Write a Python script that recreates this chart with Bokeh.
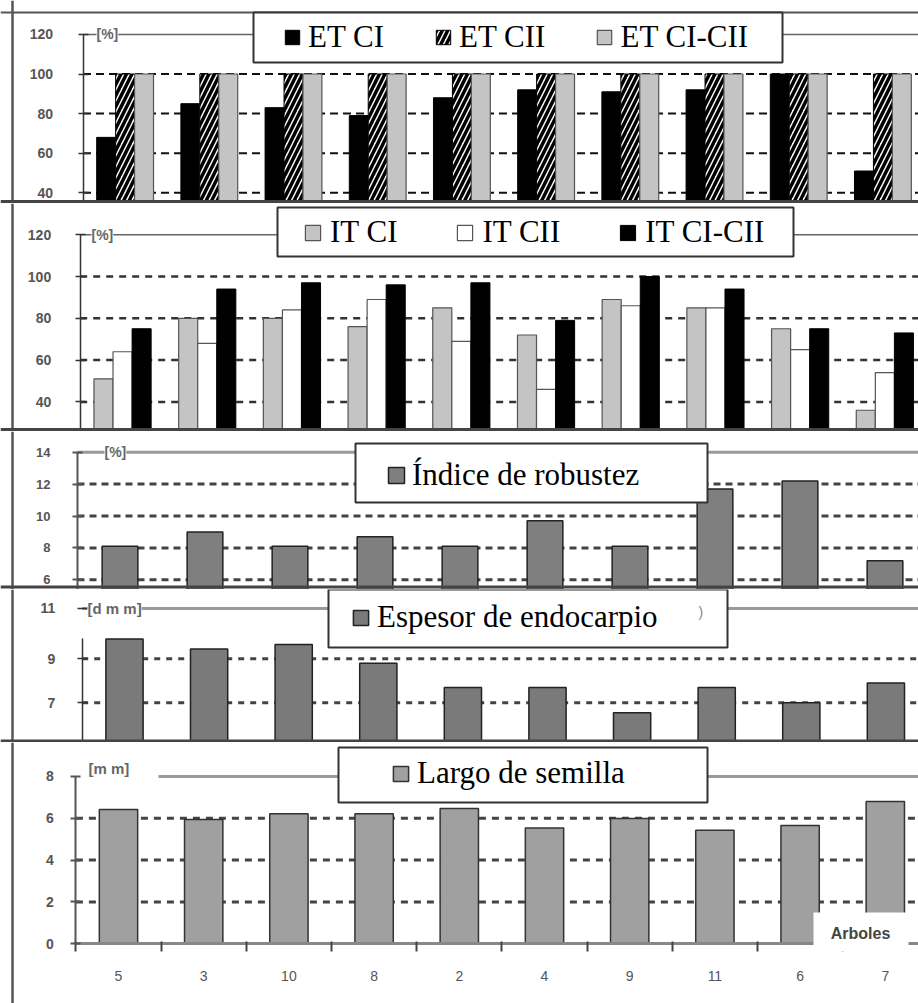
import numpy as np
from bokeh.plotting import figure
from bokeh.models import (Range1d, LinearAxis, FixedTicker,
                          Span, Label, BoxAnnotation, Legend, LegendItem)
from bokeh.layouts import column
from bokeh.embed import file_html
from bokeh.resources import INLINE

# ---------------- data ----------------
arboles = ["5", "3", "10", "8", "2", "4", "9", "11", "6", "7"]

et_ci = [68, 85, 83, 79, 88, 92, 91, 92, 100, 51]
et_cii = [100, 100, 100, 100, 100, 100, 100, 100, 100, 100]
et_ci_cii = [100, 100, 100, 100, 100, 100, 100, 100, 100, 100]

it_ci = [51, 80, 80, 76, 85, 72, 89, 85, 75, 36]
it_cii = [64, 68, 84, 89, 69, 46, 86, 85, 65, 54]
it_ci_cii = [75, 94, 97, 96, 97, 79, 100, 94, 75, 73]

indice_robustez = [8.1, 9.0, 8.1, 8.7, 8.1, 9.7, 8.1, 11.7, 12.2, 7.2]
espesor_endocarpio = [9.9, 9.45, 9.65, 8.8, 7.7, 7.7, 6.55, 7.7, 7.0, 7.9]
largo_semilla = [6.42, 5.94, 6.22, 6.22, 6.47, 5.54, 5.99, 5.43, 5.65, 6.8]

pct_ticks = [40, 60, 80, 100, 120]
pct_grid = [40, 60, 80, 100]
rob_ticks = [6, 8, 10, 12, 14]
rob_grid = [6, 8, 10, 12]
esp_ticks = [7, 9]
esp_grid = [7, 9]
esp_top_label = "11"
lar_ticks = [0, 2, 4, 6, 8]
lar_grid = [2, 4, 6]

# ---------------- helpers ----------------
W = 918
PAGE_L, PAGE_R = 0, 918
SANS = "Liberation Sans"
SERIF = "Liberation Serif"
pos = np.arange(1, len(arboles) + 1).astype(float)


def make_panel(top, bottom, ref_py, ref_v, upp, xa, s):
    def vy(py):
        return ref_v + (ref_py - py) * upp

    def vx(px):
        return 0.5 + (px - xa) / s

    p = figure(width=W, height=bottom - top,
               x_range=Range1d(vx(PAGE_L), vx(PAGE_R)),
               y_range=Range1d(vy(bottom), vy(top)),
               x_axis_location=None, y_axis_location=None,
               toolbar_location=None, output_backend="svg",
               min_border=0, outline_line_color=None,
               background_fill_color="white", border_fill_color="white")
    p.xgrid.visible = False
    p.ygrid.visible = False
    p.add_layout(Span(location=vx(12), dimension="height",
                      line_color="#555555", line_width=2.5))
    return p, vx, vy


def y_axis(p, ticks, bounds, color="#333333", width=1.5, overrides=None,
           line=True, standoff=20, size="14px"):
    ax = LinearAxis(fixed_location=0.5,
                    ticker=FixedTicker(ticks=[float(t) for t in ticks]),
                    bounds=bounds,
                    axis_line_color=color if line else None,
                    axis_line_width=width,
                    major_tick_line_color=color, major_tick_line_width=width,
                    major_tick_in=5, major_tick_out=5,
                    minor_tick_line_color=None,
                    major_label_standoff=standoff,
                    major_label_text_font=SANS,
                    major_label_text_font_size=size,
                    major_label_text_font_style="bold",
                    major_label_text_color="#555555")
    if overrides:
        ax.major_label_overrides = overrides
    p.add_layout(ax, "left")
    return ax


def grid(p, vx, ticks, dash, width, color="#333333"):
    n = len(ticks)
    p.segment(x0=[0.5] * n, y0=ticks, x1=[vx(PAGE_R)] * n, y1=ticks,
              line_color=color, line_width=width, line_dash=dash)


def top_line(p, vx, yv, color, width, x0px=None):
    x0 = 0.5 if x0px is None else vx(x0px)
    p.segment(x0=[x0], y0=[yv], x1=[vx(PAGE_R)], y1=[yv],
              line_color=color, line_width=width)


def unit_label(p, vx, x_px, yv, text, size="14px"):
    p.add_layout(Label(x=vx(x_px), y=yv, text=text, text_font=SANS,
                       text_font_size=size, text_font_style="bold",
                       text_color="#666666", text_baseline="middle",
                       text_align="left", background_fill_color="white",
                       background_fill_alpha=1.0))


def legend_box(p, vx, vy, x0, x1, y0, y1):
    p.add_layout(BoxAnnotation(left=vx(x0), right=vx(x1), top=vy(y0),
                               bottom=vy(y1), fill_color="white",
                               fill_alpha=1.0, line_color="#333333",
                               line_alpha=1.0, line_width=2,
                               level="annotation"))


def legend(p, items, gx, cy, bottom, spacing=50, glyph=18, standoff=7, h=36):
    leg = Legend(items=[LegendItem(label=l, renderers=[r]) for l, r in items],
                 orientation="horizontal",
                 location=(gx - PAGE_L, bottom - (cy + h / 2)),
                 padding=0, margin=0, spacing=spacing,
                 glyph_width=glyph, glyph_height=glyph,
                 label_standoff=standoff,
                 label_text_font=SERIF, label_text_font_size="31px",
                 label_text_color="black",
                 border_line_alpha=0, background_fill_alpha=0)
    p.add_layout(leg)
    return leg


def separator(p, vy, py, color="#444444", width=3):
    p.add_layout(Span(location=vy(py), dimension="width",
                      line_color=color, line_width=width))


# ---------------- panel 1 : ET ----------------
T1, B1 = 0, 203
p1, vx1, vy1 = make_panel(T1, B1, 73.5, 100, 0.505, 82.5, 84.2)
grid(p1, vx1, pct_grid, "8 5", 2, "#111111")
top_line(p1, vx1, 120, "#666666", 1.5)
bw = 0.225
r1a = p1.vbar(x=pos - bw, top=et_ci, bottom=0, width=bw,
              fill_color="black", line_color="black", line_width=1)
r1b = p1.vbar(x=pos, top=et_cii, bottom=0, width=bw,
              fill_color="white", line_color="black", line_width=1,
              hatch_pattern="/", hatch_color="black", hatch_weight=3.5,
              hatch_scale=11)
r1c = p1.vbar(x=pos + bw, top=et_ci_cii, bottom=0, width=bw,
              fill_color="#c4c4c4", line_color="#555555", line_width=1.2)
y_axis(p1, pct_ticks, (vy1(B1), 120), standoff=25)
unit_label(p1, vx1, 96, 120, "[%]")
p1.add_layout(Span(location=vy1(12), dimension="width",
                   line_color="#555555", line_width=2))
separator(p1, vy1, B1 - 2)
legend_box(p1, vx1, vy1, 253, 782, 12, 62)
legend(p1, [("ET CI", r1a), ("ET CII", r1b), ("ET CI-CII", r1c)],
       283, 37, B1, spacing=50, glyph=18, standoff=7)

# ---------------- panel 2 : IT ----------------
T2, B2 = 203, 431
p2, vx2, vy2 = make_panel(T2, B2, 276, 100, 0.4785, 79.7, 84.7)
grid(p2, vx2, pct_grid, "7 6", 2.5, "#333333")
top_line(p2, vx2, 120, "#666666", 1.5)
r2a = p2.vbar(x=pos - bw, top=it_ci, bottom=0, width=bw,
              fill_color="#c4c4c4", line_color="#555555", line_width=1.2)
r2b = p2.vbar(x=pos, top=it_cii, bottom=0, width=bw,
              fill_color="white", line_color="#555555", line_width=1.2)
r2c = p2.vbar(x=pos + bw, top=it_ci_cii, bottom=0, width=bw,
              fill_color="black", line_color="black", line_width=1)
y_axis(p2, pct_ticks, (vy2(B2), 120), standoff=24)
unit_label(p2, vx2, 91, 120, "[%]")
separator(p2, vy2, B2 - 2)
legend_box(p2, vx2, vy2, 277, 793, 207, 256)
legend(p2, [("IT CI", r2a), ("IT CII", r2b), ("IT CI-CII", r2c)],
       303, 232, B2, spacing=58, glyph=19, standoff=8)

# ---------------- panel 3 : Índice de robustez ----------------
T3, B3 = 431, 589
p3, vx3, vy3 = make_panel(T3, B3, 579.3, 6, 0.0627, 77, 85)
grid(p3, vx3, rob_grid, "7 5", 3, "#444444")
top_line(p3, vx3, 14, "#9a9a9a", 3)
r3 = p3.vbar(x=pos, top=indice_robustez, bottom=0, width=0.42,
             fill_color="#7f7f7f", line_color="#222222", line_width=1.5)
y_axis(p3, rob_ticks, (vy3(B3), 14), color="#555555", width=2, standoff=22,
       size="13px")
unit_label(p3, vx3, 104, 14, "[%]")
separator(p3, vy3, B3 - 2.5)
legend_box(p3, vx3, vy3, 355, 707, 443, 502)
legend(p3, [("Índice de robustez", r3)], 386, 475, B3, glyph=20, standoff=6)

# ---------------- panel 4 : Espesor de endocarpio ----------------
T4, B4 = 589, 742
p4, vx4, vy4 = make_panel(T4, B4, 702.3, 7, 0.04545, 81.7, 84.6)
grid(p4, vx4, esp_grid, "6 6", 3, "#444444")
top4 = round(vy4(608), 3)
top_line(p4, vx4, top4, "#9a9a9a", 3)
r4 = p4.vbar(x=pos, top=espesor_endocarpio, bottom=0, width=0.44,
             fill_color="#7a7a7a", line_color="#222222", line_width=1.5)
y_axis(p4, esp_ticks, (vy4(B4), vy4(638)), standoff=22)
y_axis(p4, [top4], "auto", line=False, overrides={top4: esp_top_label},
       standoff=22)
unit_label(p4, vx4, 87, top4, "[d m m]", size="15px")
separator(p4, vy4, B4 - 1.5)
legend_box(p4, vx4, vy4, 328, 727, 589, 647)
legend(p4, [("Espesor de endocarpio", r4)], 351, 617, B4, glyph=19,
       standoff=7)
p4.add_layout(Label(x=vx4(698), y=vy4(611), text=")", text_font=SANS,
                    text_font_size="14px", text_color="#888888",
                    text_baseline="middle"))

# ---------------- panel 5 : Largo de semilla ----------------
T5, B5 = 742, 1003
p5, vx5, vy5 = make_panel(T5, B5, 943.3, 0, 0.0478, 75.4, 85.2)
grid(p5, vx5, lar_grid, "7 6", 3, "#444444")
top_line(p5, vx5, 8, "#9a9a9a", 3, x0px=158)
r5 = p5.vbar(x=pos, top=largo_semilla, bottom=0, width=0.45,
             fill_color="#a0a0a0", line_color="#333333", line_width=1.5)
y_axis(p5, lar_ticks, (0, 8), color="#555555", width=2, standoff=17)
unit_label(p5, vx5, 88, vy5(768), "[m m]", size="15px")
xax = LinearAxis(fixed_location=0,
                 ticker=FixedTicker(ticks=[float(v) for v in pos],
                                    minor_ticks=[i + 0.5 for i in range(len(arboles) + 1)]),
                 bounds=(0.5, vx5(PAGE_R)),
                 axis_line_color="#888888", axis_line_width=3,
                 major_tick_line_color=None,
                 minor_tick_line_color="#444444", minor_tick_line_width=2,
                 minor_tick_in=2, minor_tick_out=8,
                 major_label_overrides={float(i): t for i, t in zip(pos, arboles)},
                 major_label_standoff=19,
                 major_label_text_font=SANS, major_label_text_font_size="14px",
                 major_label_text_color="#555555")
p5.add_layout(xax, "below")
p5.add_layout(BoxAnnotation(left=vx5(813), right=vx5(908), top=vy5(912),
                            bottom=vy5(951), fill_color="white", fill_alpha=1.0,
                            line_alpha=0, level="annotation"))
p5.add_layout(Label(x=vx5(860), y=vy5(933), text="Arboles", text_font=SANS,
                    text_font_size="16px", text_font_style="bold",
                    text_color="#444444", text_align="center",
                    text_baseline="middle"))
legend_box(p5, vx5, vy5, 338, 707, 747, 802)
legend(p5, [("Largo de semilla", r5)], 391, 773, B5, glyph=19, standoff=7)

layout = column(p1, p2, p3, p4, p5, spacing=0)
open("out.html", "w").write(file_html(layout, INLINE))
